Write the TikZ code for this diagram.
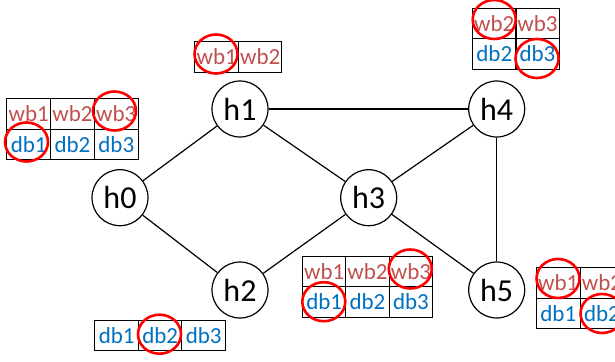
\documentclass[tikz,border=0pt]{standalone}
\usepackage{fontspec}
\setmainfont{Carlito}
\usetikzlibrary{shapes.geometric}
\definecolor{wbred}{HTML}{C0504D}
\definecolor{dbblue}{HTML}{0070C0}
\definecolor{ringred}{HTML}{FF0000}
\tikzset{
  host/.style={draw, circle, line width=1.2pt, minimum size=56pt, inner sep=0pt, font=\fontsize{32}{34}\selectfont},
  link/.style={line width=1.2pt},
  cell/.style={draw, line width=1pt, rectangle, minimum width=43.5pt, minimum height=30.5pt, inner sep=0pt, font=\fontsize{23}{25}\selectfont},
  wb/.style={cell, text=wbred},
  db/.style={cell, text=dbblue},
  ring/.style={draw=ringred, line width=2.6pt, ellipse, minimum width=43pt, minimum height=39pt, inner sep=0pt},
}
\begin{document}
\begin{tikzpicture}[x=1pt, y=-1pt]
\useasboundingbox (0,0) rectangle (615,361);

% hosts
\node[host] (h0) at (120,197.7) {h0};
\node[host] (h1) at (240,109) {h1};
\node[host] (h2) at (240,290) {h2};
\node[host] (h3) at (368.7,197.7) {h3};
\node[host] (h4) at (496.7,109) {h4};
\node[host] (h5) at (496.7,290) {h5};

% links
\draw[link] (h0) -- (h1);
\draw[link] (h0) -- (h2);
\draw[link] (h1) -- (h3);
\draw[link] (h2) -- (h3);
\draw[link] (h1) -- (h4);
\draw[link] (h3) -- (h4);
\draw[link] (h3) -- (h5);
\draw[link] (h4) -- (h5);

% buffers at h0
\node[wb] (a1) at (28.7,114) {wb1};
\node[wb] (a2) at (72.5,114) {wb2};
\node[wb] (a3) at (116.3,114) {wb3};
\node[db] (a4) at (28.7,144.5) {db1};
\node[db] (a5) at (72.5,144.5) {db2};
\node[db] (a6) at (116.3,144.5) {db3};
\node[ring] (ra3) at (114.5,111) {};
\node[ring] (ra4) at (26.5,142) {};

% buffers at h1
\node[wb] (b1) at (216.7,56.8) {wb1};
\node[wb] (b2) at (260.2,56.8) {wb2};
\node[ring] (rb1) at (216,54) {};

% buffers at h4
\node[wb] (c1) at (494.3,23.3) {wb2};
\node[wb] (c2) at (537.5,23.3) {wb3};
\node[db] (c3) at (494.3,53.8) {db2};
\node[db] (c4) at (537.5,53.8) {db3};
\node[ring] (rc1) at (494.2,19.5) {};
\node[ring] (rc4) at (537,58.5) {};

% buffers at h3
\node[wb] (d1) at (324.2,271.3) {wb1};
\node[wb] (d2) at (367.5,271.3) {wb2};
\node[wb] (d3) at (411,271.3) {wb3};
\node[db] (d4) at (324.2,301.8) {db1};
\node[db] (d5) at (367.5,301.8) {db2};
\node[db] (d6) at (411,301.8) {db3};
\node[ring] (rd3) at (410.3,269) {};
\node[ring] (rd4) at (323.8,301.7) {};

% buffers at h5
\node[wb] (e1) at (558.3,283) {wb1};
\node[wb] (e2) at (602,283) {wb2};
\node[db] (e3) at (558.3,313.5) {db1};
\node[db] (e4) at (602,313.5) {db2};
\node[ring] (re1) at (558,278.5) {};
\node[ring] (re4) at (602,313.5) {};

% buffers at h2
\node[db] (f1) at (116.7,335.5) {db1};
\node[db] (f2) at (160.2,335.5) {db2};
\node[db] (f3) at (203.7,335.5) {db3};
\node[ring] (rf2) at (159.5,334.2) {};
\end{tikzpicture}
\end{document}
